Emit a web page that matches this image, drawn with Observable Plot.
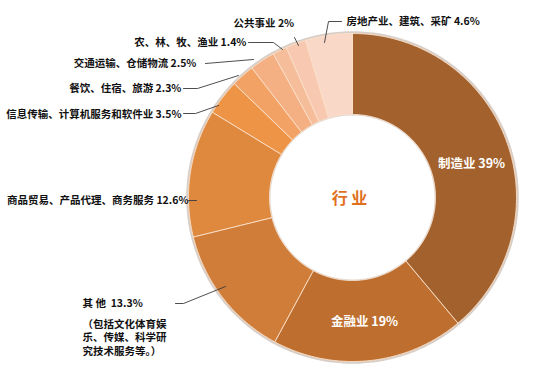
<!DOCTYPE html>
<html><head><meta charset="utf-8">
<script src="https://cdn.jsdelivr.net/npm/d3@7"></script>
<script src="https://cdn.jsdelivr.net/npm/@observablehq/plot@0.6"></script>
<style>body{margin:0;background:#fff}#chart{width:540px;height:369px}</style>
</head><body><div id="chart"></div>
<script>
// ---- data ----
const industries = ["制造业","金融业","其他","商品贸易、产品代理、商务服务","信息传输、计算机服务和软件业","餐饮、住宿、旅游","交通运输、仓储物流","农、林、牧、渔业","公共事业","房地产业、建筑、采矿"];
const shares = [39, 19, 13.3, 12.6, 3.5, 2.3, 2.5, 1.4, 2, 4.6];
const labelTexts = ["制造业 39%","金融业 19%","其 他  13.3%","商品贸易、产品代理、商务服务 12.6%","信息传输、计算机服务和软件业 3.5%","餐饮、住宿、旅游 2.3%","交通运输、仓储物流 2.5%","农、林、牧、渔业 1.4%","公共事业 2%","房地产业、建筑、采矿 4.6%"];
const noteLines = ["（包括文化体育娱","乐、传媒、科学研","究技术服务等。）"];
const centerTitle = "行 业";
const sliceColors = ["#A3622D","#BE6F30","#CF7D39","#DF893F","#EE9446","#F2A265","#F4AF82","#F6BD9B","#F8C9B0","#FAD8C8"];

// ---- layout ----
const W = 540, H = 369, cx = 352, cy = 197, R = 164, r = 83;
const total = d3.sum(shares);
const polar = (deg, rho) => ({x: cx + rho * Math.sin(deg * Math.PI / 180), y: cy - rho * Math.cos(deg * Math.PI / 180)});

let acc = 0;
const slices = shares.map((v, i) => {
  const a0 = acc / total * 360; acc += v; const a1 = acc / total * 360;
  return {name: industries[i], a0, a1};
});
const ringPts = [];
for (const s of slices) {
  const n = Math.max(2, Math.ceil((s.a1 - s.a0) / 0.5));
  for (let k = 0; k <= n; k++) ringPts.push({name: s.name, ...polar(s.a0 + (s.a1 - s.a0) * k / n, R)});
  for (let k = n; k >= 0; k--) ringPts.push({name: s.name, ...polar(s.a0 + (s.a1 - s.a0) * k / n, r)});
}
const shadowPts = d3.range(0, 361, 1).map(a => ({...polar(a, R + 1)}));
const innerShadow = d3.range(0, 361, 1).map(a => ({...polar(a, r - 0.5)}));

// label placement (annotation layout)
const outside = [
  {i: 9, x: 346, y: 21, anchor: "start", lead: [[341,21],[328,21],[324,42]]},
  {i: 8, x: 233, y: 23, anchor: "start", lead: [[294,37],[298,45]]},
  {i: 7, x: 246, y: 42, anchor: "end", lead: [[248,42],[273,42],[282,49]]},
  {i: 6, x: 196, y: 63, anchor: "end", lead: [[205,63],[253,59]]},
  {i: 5, x: 181, y: 88, anchor: "end", lead: [[183,88],[197,88],[238,75]]},
  {i: 4, x: 181, y: 114, anchor: "end", lead: [[183,113],[195,113],[218,105]]},
  {i: 3, x: 188, y: 200, anchor: "end", lead: [[188,200],[196,200]]},
  {i: 2, x: 82, y: 303, anchor: "start", lead: [[175,303],[183,303],[225,286]]}
];
const inside = [{i: 0, x: 471, y: 163}, {i: 1, x: 364, y: 321}];
const outsideText = outside.map(d => ({...d, text: labelTexts[d.i]}));
const leadPts = outside.flatMap(d => d.lead.map(([x, y]) => ({k: d.i, x, y})));
const notes = noteLines.map((t, j) => ({text: t, x: 82, y: 324 + j * 13.5}));

const font = "'Noto Sans CJK SC', 'Noto Sans', sans-serif";
const labelStyle = {x: "x", y: "y", text: "text", fontSize: 10.5, fontWeight: "bold", fill: "#111"};
const chart = Plot.plot({
  width: W, height: H, margin: 0,
  x: {domain: [0, W], range: [0, W], axis: null},
  y: {domain: [0, H], range: [0, H], axis: null},
  color: {domain: industries, range: sliceColors},
  style: {fontFamily: font, background: "#fff"},
  marks: [
    Plot.line(shadowPts, {x: "x", y: "y", stroke: "#d9cec6", strokeWidth: 2.5, curve: "linear-closed"}),
    Plot.line(ringPts, {x: "x", y: "y", z: "name", fill: "name", stroke: "#fbe0c8", strokeWidth: 0.9, curve: "linear-closed"}),
    Plot.line(innerShadow, {x: "x", y: "y", stroke: "#e3d6cc", strokeWidth: 1, curve: "linear-closed"}),
    Plot.line(leadPts, {x: "x", y: "y", z: "k", stroke: "#3a3a3a", strokeWidth: 0.9}),
    Plot.text(outsideText.filter(d => d.anchor === "start"), {...labelStyle, textAnchor: "start"}),
    Plot.text(outsideText.filter(d => d.anchor === "end"), {...labelStyle, textAnchor: "end"}),
    Plot.text(notes, {...labelStyle, textAnchor: "start"}),
    Plot.text(inside, {x: "x", y: "y", text: d => labelTexts[d.i], fontSize: 12.5, fontWeight: "bold", fill: "#ffffff"}),
    Plot.text([{x: 349, y: 198}], {x: "x", y: "y", text: () => centerTitle, fontSize: 16, fontWeight: "bold", fill: "#E0701C"})
  ]
});
document.getElementById("chart").append(chart);
</script>
</body></html>
